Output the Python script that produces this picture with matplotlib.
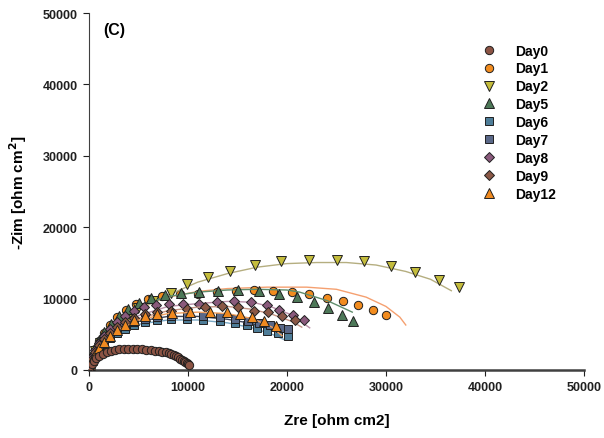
import matplotlib
matplotlib.use('Agg')
import matplotlib.pyplot as plt

plt.rcParams['font.family'] = ['Liberation Sans', 'DejaVu Sans']
plt.rcParams['font.weight'] = 'bold'

# Nyquist data, impedance in ohm cm2
day0_zre = [50, 150, 300, 500, 750, 1050, 1400, 1800, 2200, 2650, 3100, 3550, 4000, 4450, 4900,
            5350, 5800, 6250, 6650, 7050, 7400, 7750, 8050, 8350, 8600, 8850, 9050, 9250, 9450,
            9600, 9750, 9900, 10000, 10100]
day0_zim = [200, 550, 900, 1300, 1650, 2000, 2300, 2520, 2680, 2800, 2880, 2930, 2950, 2950, 2930,
            2900, 2850, 2790, 2720, 2640, 2550, 2450, 2330, 2200, 2060, 1900, 1750, 1590, 1430,
            1280, 1130, 980, 850, 720]

day1_zre = [0, 100, 300, 610, 1010, 1520, 2120, 2830, 3740, 4750, 5960, 7370, 9190, 11010, 12930,
            14850, 16670, 18590, 20510, 22220, 24040, 25660, 27170, 28690, 30000]
day1_zim = [140, 840, 1820, 2940, 4060, 5180, 6300, 7420, 8400, 9240, 9940, 10360, 10640, 10640,
            10920, 11060, 11200, 11060, 10920, 10640, 10080, 9660, 9100, 8400, 7700]

day2_zre = [0, 200, 610, 1110, 1820, 2420, 3130, 3940, 4950, 6460, 8280, 9900, 12020, 14240,
            16770, 19390, 22220, 25050, 27780, 30510, 32930, 35350, 37370]
day2_zim = [400, 1540, 2660, 3780, 4620, 5460, 6440, 7420, 8680, 9660, 10780, 12040, 13030, 13870,
            14710, 15270, 15410, 15410, 15270, 14570, 13730, 12610, 11630]

day5_zre = [0, 100, 300, 610, 1010, 1520, 2220, 3030, 3940, 5050, 6260, 7680, 9290, 11110, 13030,
            15050, 17170, 19190, 21010, 22730, 24140, 25560, 26670]
day5_zim = [140, 980, 1960, 3080, 4200, 5320, 6440, 7560, 8540, 9380, 10080, 10500, 10780, 10920,
            11060, 11200, 11060, 10640, 10220, 9520, 8680, 7700, 6860]

day6_zre = [0, 100, 300, 610, 1010, 1520, 2120, 2830, 3640, 4550, 5660, 6870, 8280, 9900, 11520,
            13230, 14750, 15960, 16970, 17980, 19090, 20100]
day6_zim = [140, 560, 1260, 2100, 2940, 3640, 4480, 5180, 5740, 6300, 6720, 7000, 7140, 7140, 7000,
            6860, 6580, 6300, 5880, 5460, 5180, 4760]

day7_zre = [0, 100, 300, 610, 1010, 1520, 2120, 2830, 3640, 4550, 5660, 6870, 8280, 9900, 11520,
            13230, 14750, 16060, 17170, 18280, 19290, 20100]
day7_zim = [140, 700, 1400, 2240, 3080, 3920, 4760, 5460, 6160, 6720, 7140, 7420, 7560, 7560, 7560,
            7420, 7140, 6860, 6580, 6300, 5880, 5740]

day8_zre = [0, 100, 300, 610, 1010, 1520, 2120, 2830, 3640, 4550, 5560, 6770, 8080, 9500, 11110,
            12930, 14650, 16360, 17980, 19190, 20600, 21720]
day8_zim = [140, 840, 1820, 2800, 3780, 4760, 5740, 6720, 7560, 8260, 8820, 9100, 9240, 9240, 9240,
            9520, 9660, 9520, 9100, 8400, 7700, 7000]

day9_zre = [0, 100, 300, 610, 1010, 1520, 2120, 2830, 3640, 4550, 5660, 6870, 8280, 9900, 11720,
            13430, 15050, 16670, 18080, 19490, 20810]
day9_zim = [140, 700, 1540, 2520, 3500, 4340, 5180, 6020, 6720, 7280, 7840, 8120, 8260, 8540, 8820,
            8960, 8820, 8260, 8120, 7560, 7000]

day12_zre = [0, 100, 300, 610, 1010, 1520, 2120, 2830, 3640, 4550, 5660, 6870, 8380, 10200, 12220,
             13940, 15250, 16460, 17680, 18890]
day12_zim = [140, 700, 1400, 2240, 3080, 3920, 4760, 5600, 6300, 7000, 7560, 7840, 7980, 8120, 8120,
             8120, 7840, 7420, 6860, 6160]

# equivalent-circuit fit curves
fit0_zre = [0, 500, 1500, 3000, 4500, 6000, 7500, 8700, 9600, 10200]
fit0_zim = [0, 1250, 2200, 2800, 2950, 2820, 2500, 2000, 1350, 700]
fit1_zre = [0, 500, 1500, 3000, 5000, 8000, 11000, 14000, 18000, 22000, 25000, 28000, 30000, 31400, 32000]
fit1_zim = [0, 2500, 4800, 7000, 8800, 10200, 11000, 11400, 11600, 11600, 11300, 10200, 8900, 7400, 6300]
fit2_zre = [0, 500, 1500, 3000, 5000, 8000, 11000, 14000, 17000, 20000, 23000, 26000, 29000, 32000, 34500, 36600]
fit2_zim = [0, 2400, 4300, 6300, 8400, 10500, 12300, 13500, 14400, 14900, 15050, 15050, 14700, 13800, 12700, 11100]
fit5_zre = [0, 500, 1500, 3000, 5000, 8000, 11000, 14000, 17000, 20000, 21300, 24100, 26600]
fit5_zim = [0, 2500, 4900, 7100, 8900, 10300, 10900, 11200, 11300, 11200, 10900, 9700, 8100]
fit6_zre = [0, 500, 1500, 3000, 5000, 8000, 11000, 14000, 16500, 18500, 19800]
fit6_zim = [0, 1900, 3600, 5200, 6400, 7000, 7000, 6600, 5900, 5000, 4200]
fit7_zre = [0, 500, 1500, 3000, 5000, 8000, 11000, 14000, 16500, 18500, 20000]
fit7_zim = [0, 2000, 3800, 5500, 6800, 7500, 7500, 7100, 6500, 5900, 5300]
fit8_zre = [0, 500, 1500, 3000, 5000, 8000, 11000, 14000, 16500, 18500, 20500, 22300]
fit8_zim = [0, 2300, 4300, 6100, 7600, 8900, 9300, 9600, 9500, 8800, 7700, 5900]
fit9_zre = [0, 500, 1500, 3000, 5000, 8000, 11000, 14000, 16500, 18500, 20500, 21500]
fit9_zim = [0, 2200, 4100, 5800, 7200, 8300, 8800, 8900, 8500, 7800, 6800, 6000]
fit12_zre = [0, 500, 1500, 3000, 5000, 8000, 11000, 14000, 16500, 18500, 19500]
fit12_zim = [0, 2100, 3900, 5600, 7000, 7900, 8100, 7900, 7200, 6000, 4800]

series = [
    # label, zre, zim, marker, face, size, fit zre, fit zim, fit color
    ('Day0', day0_zre, day0_zim, 'o', '#8c5444', 6.0, fit0_zre, fit0_zim, '#a0705e'),
    ('Day1', day1_zre, day1_zim, 'o', '#f28c1f', 6.0, fit1_zre, fit1_zim, '#f5a070'),
    ('Day2', day2_zre, day2_zim, 'v', '#c4bc3c', 6.5, fit2_zre, fit2_zim, '#b5ae80'),
    ('Day5', day5_zre, day5_zim, '^', '#4d7858', 6.5, fit5_zre, fit5_zim, '#5f8d6c'),
    ('Day6', day6_zre, day6_zim, 's', '#4e7d98', 5.5, fit6_zre, fit6_zim, '#7aa8c4'),
    ('Day7', day7_zre, day7_zim, 's', '#5a6888', 5.5, fit7_zre, fit7_zim, '#40465a'),
    ('Day8', day8_zre, day8_zim, 'D', '#8a5a7c', 5.5, fit8_zre, fit8_zim, '#b890a8'),
    ('Day9', day9_zre, day9_zim, 'D', '#8a5846', 5.5, fit9_zre, fit9_zim, '#c49484'),
    ('Day12', day12_zre, day12_zim, '^', '#f08a20', 6.5, fit12_zre, fit12_zim, '#f0a060'),
]

fig = plt.figure(figsize=(6.04, 4.39), dpi=100)
ax = fig.add_axes([0.147, 0.155, 0.820, 0.813])

for i, (label, zre, zim, mk, fc, ms, fre, fim, lc) in enumerate(series):
    z = 10 + i * 2 if label != 'Day0' else 40
    ax.plot(fre, fim, '-', color=lc, lw=1.0, zorder=z - 1)
    ax.plot(zre, zim, linestyle='none', marker=mk, ms=ms, mfc=fc, mec='#202020',
            mew=0.7, label=label, zorder=z)

ax.set_xlim(0, 50000)
ax.set_ylim(0, 50000)
ax.set_xticks(range(0, 50001, 10000))
ax.set_yticks(range(0, 50001, 10000))
ax.tick_params(direction='out', length=4, width=0.8, labelsize=9, colors='#202020', pad=4)
for lab in ax.get_xticklabels() + ax.get_yticklabels():
    lab.set_fontweight('bold')

ax.spines['top'].set_visible(False)
ax.spines['right'].set_visible(False)
ax.spines['left'].set_linewidth(0.8)
ax.spines['left'].set_color('#404040')
ax.spines['bottom'].set_linewidth(1.8)
ax.spines['bottom'].set_color('#404040')

ax.set_xlabel('Zre [ohm cm2]', fontsize=11, fontweight='bold', labelpad=14)
ax.set_ylabel('-Zim [ohm cm$\\mathbf{^2}$]', fontsize=11, fontweight='bold', labelpad=10)
ax.text(0.03, 0.975, '(C)', transform=ax.transAxes, fontsize=11.5, fontweight='bold',
        va='top', ha='left')

leg = ax.legend(loc='upper left', bbox_to_anchor=(0.768, 0.93), frameon=False,
                fontsize=10, handletextpad=0.9, labelspacing=0.28, borderaxespad=0)
for t in leg.get_texts():
    t.set_fontweight('bold')

fig.savefig('out.png', dpi=100, facecolor='white')
